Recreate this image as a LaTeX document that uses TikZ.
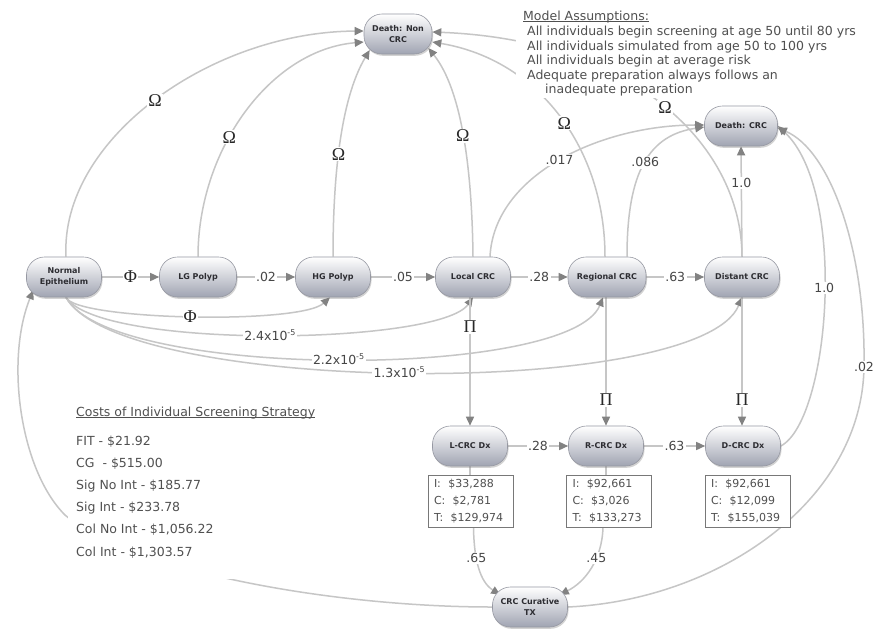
\documentclass[tikz,border=0pt]{standalone}
\usepackage{fontspec}
\setmainfont{DejaVu Sans}
\newfontfamily\grk{Liberation Serif}
\usetikzlibrary{arrows.meta,shadows,backgrounds}
\definecolor{linec}{RGB}{198,198,198}
\definecolor{arrowc}{RGB}{130,130,130}
\definecolor{nodebot}{RGB}{160,164,178}
\definecolor{nodeedge}{RGB}{150,152,162}
\definecolor{nodetext}{RGB}{45,45,50}
\definecolor{labelc}{RGB}{70,70,70}
\definecolor{greekc}{RGB}{40,40,40}
\definecolor{textc}{RGB}{80,80,80}
\definecolor{boxc}{RGB}{120,120,120}
\newcommand\myul[1]{\setbox0\hbox{#1}\rlap{\rule[-1.8pt]{\wd0}{0.6pt}}\box0}
\newcommand\expo[1]{\raisebox{5pt}{\fontsize{8}{8}\selectfont #1}}
\begin{document}
\begin{tikzpicture}[x=1pt,y=-1pt,
  box/.style={rectangle, rounded corners=18pt, minimum width=75pt, minimum height=40pt,
    inner sep=1pt, top color=white, bottom color=nodebot, draw=nodeedge, line width=0.6pt,
    text=nodetext, font=\bfseries\fontsize{8}{11}\selectfont, align=center,
    drop shadow={shadow xshift=1pt, shadow yshift=-1.8pt, opacity=0.35}},
  ibox/.style={rectangle, draw=boxc, line width=0.7pt, fill=white, minimum width=85pt,
    minimum height=52pt, text width=73pt, align=left, inner xsep=6pt, inner ysep=2pt,
    text=textc, font=\fontsize{11}{17}\selectfont},
  lbl/.style={fill=white, inner sep=1.5pt, text=labelc, font=\fontsize{12.5}{14}\selectfont},
  glbl/.style={fill=white, inner sep=1pt, text=greekc, font=\grk\fontsize{18}{20}\selectfont},
  txt/.style={anchor=base west, inner sep=0pt, text=textc, font=\fontsize{12.5}{15}\selectfont},
  edge/.style={draw=linec, line width=1.5pt},
  arr/.style={edge, -{Triangle[length=9pt,width=8pt,color=arrowc]}}
]
\useasboundingbox (0,0) rectangle (873,630);

% nodes
\node[box, minimum width=68pt] (dn) at (398,34) {Death: Non\\CRC};
\node[box, minimum width=73pt] (dc) at (741,126) {Death: CRC};
\node[box] (ne) at (64,277) {Normal\\Epithelium};
\node[box, minimum width=77pt] (lg) at (198,277) {LG Polyp};
\node[box] (hg) at (333,277) {HG Polyp};
\node[box] (lc) at (473,277) {Local CRC};
\node[box, minimum width=78pt] (rc) at (607,277) {Regional CRC};
\node[box] (dic) at (742,277) {Distant CRC};
\node[box] (ldx) at (470,446) {L-CRC Dx};
\node[box] (rdx) at (606,446) {R-CRC Dx};
\node[box] (ddx) at (743,446) {D-CRC Dx};
\node[box] (cur) at (530,607) {CRC Curative\\TX};

\node[ibox] (lbox) at (470.5,501) {I:\ \ \$33,288\\C:\ \ \$2,781\\T:\ \ \$129,974};
\node[ibox] (rbox) at (609,501) {I:\ \ \$92,661\\C:\ \ \$3,026\\T:\ \ \$133,273};
\node[ibox] (dbox) at (747.5,501) {I:\ \ \$92,661\\C:\ \ \$12,099\\T:\ \ \$155,039};

% texts
\node[txt] (a0) at (523,20) {\myul{Model Assumptions:}};
\node[txt] (a1) at (527,35) {All individuals begin screening at age 50 until 80 yrs};
\node[txt] (a2) at (527,50) {All individuals simulated from age 50 to 100 yrs};
\node[txt] (a3) at (527,64.5) {All individuals begin at average risk};
\node[txt] (a4) at (527,79) {Adequate preparation always follows an};
\node[txt] (a5) at (545,93.5) {inadequate preparation};

\node[txt] (c0) at (76,416) {\myul{Costs of Individual Screening Strategy}};
\node[txt] (c1) at (76,445) {FIT - \$21.92};
\node[txt] (c2) at (76,467) {CG\ \ - \$515.00};
\node[txt] (c3) at (76,489) {Sig No Int - \$185.77};
\node[txt] (c4) at (76,511.5) {Sig Int - \$233.78};
\node[txt] (c5) at (76,533.5) {Col No Int - \$1,056.22};
\node[txt] (c6) at (76,556) {Col Int - \$1,303.57};

\begin{pgfonlayer}{background}
\fill[white] (0,0) rectangle (873,630);
% to Death: Non CRC
\draw[arr] ([shift={(2,0)}]ne.north) .. controls (60,140) and (210,32) .. ([shift={(0,-3)}]dn.west)
  node[glbl, pos=0.5] (o1) {Ω};
\draw[arr] (lg.north) .. controls (198,150) and (270,50) .. ([shift={(0,8)}]dn.west)
  node[glbl, pos=0.4] (o2) {Ω};
\draw[arr] (hg.north) .. controls (333,180) and (340,100) .. ([shift={(6,16)}]dn.west)
  node[glbl, pos=0.45] (o3) {Ω};
\draw[arr] (lc.north) .. controls (472,170) and (462,90) .. ([shift={(-4,14)}]dn.east)
  node[glbl, pos=0.5] (o4) {Ω};
\draw[arr] ([shift={(-2,0)}]rc.north) .. controls (605,150) and (540,60) .. ([shift={(0,8)}]dn.east)
  node[glbl, pos=0.47] (o5) {Ω};
\draw[arr] (dic.north) .. controls (742,150) and (640,40) .. ([shift={(0,-2)}]dn.east)
  node[glbl, pos=0.5] (o6) {Ω};
% to Death: CRC
\draw[arr] ([shift={(17,0)}]lc.north) .. controls (494,175) and (600,125) .. ([shift={(0,-1)}]dc.west)
  node[lbl, pos=0.5] (p1) {.017};
\draw[arr] ([shift={(20,0)}]rc.north) .. controls (627,170) and (650,135) .. ([shift={(0,1)}]dc.west)
  node[lbl, pos=0.5] (p2) {.086};
\draw[arr] (dic.north) -- (dc.south) node[lbl, pos=0.67] (p3) {1.0};
\draw[arr] (ddx.east) .. controls (830,420) and (848,190) .. (dc.east)
  node[lbl, pos=0.53] (p4) {1.0};
\draw[arr] (cur.east) .. controls (720,600) and (862,500) .. (864,367) node[lbl] (p5) {.02}
  .. controls (866,250) and (830,150) .. ([shift={(0,2)}]dc.east);
% main chain
\draw[arr] (ne.east) -- (lg.west) node[glbl, pos=0.5] (f1) {Φ};
\draw[arr] (lg.east) -- (hg.west) node[lbl, pos=0.5] (r1) {.02};
\draw[arr] (hg.east) -- (lc.west) node[lbl, pos=0.5] (r2) {.05};
\draw[arr] (lc.east) -- (rc.west) node[lbl, pos=0.5] (r3) {.28};
\draw[arr] (rc.east) -- (dic.west) node[lbl, pos=0.5] (r4) {.63};
% from Normal Epithelium below
\draw[arr] ([shift={(2,0)}]ne.south) .. controls (75,320) and (300,325) .. ([shift={(-3,0)}]hg.south)
  node[glbl, pos=0.5] (f2) {Φ};
\draw[arr] ([shift={(2,0)}]ne.south) .. controls (100,350) and (440,345) .. (lc.south)
  node[lbl, pos=0.5] (e1) {2.4x10\expo{-5}};
\draw[arr] ([shift={(2,0)}]ne.south) .. controls (110,380) and (570,380) .. ([shift={(-4,0)}]rc.south)
  node[lbl, pos=0.5] (e2) {2.2x10\expo{-5}};
\draw[arr] ([shift={(2,0)}]ne.south) .. controls (120,395) and (700,400) .. (dic.south)
  node[lbl, pos=0.49] (e3) {1.3x10\expo{-5}};
% to diagnosis
\draw[arr] ([shift={(-3,0)}]lc.south) -- (ldx.north) node[glbl, pos=0.23] (q1) {Π};
\draw[arr] ([shift={(-1,0)}]rc.south) -- (rdx.north) node[glbl, pos=0.8] (q2) {Π};
\draw[arr] (dic.south) -- ([shift={(-1,0)}]ddx.north) node[glbl, pos=0.8] (q3) {Π};
\draw[arr] (ldx.east) -- (rdx.west) node[lbl, pos=0.5] (r5) {.28};
\draw[arr] (rdx.east) -- (ddx.west) node[lbl, pos=0.5] (r6) {.63};
\draw[edge] (ldx.south) -- (ldx.south |- lbox.north);
\draw[edge] (rdx.south) -- (rdx.south |- rbox.north);
% to curative
\draw[arr] ([shift={(3,0)}]lbox.south) .. controls (474,560) and (480,582) .. ([shift={(8,8)}]cur.north west)
  node[lbl, pos=0.35] (t1) {.65};
\draw[arr] ([shift={(-6,0)}]rbox.south) .. controls (602,560) and (585,582) .. ([shift={(-8,8)}]cur.north east)
  node[lbl, pos=0.35] (t2) {.45};
% back to normal epithelium
\draw[arr] (cur.west) .. controls (330,607) and (130,570) .. (65,515)
  .. controls (20,470) and (5,360) .. ([shift={(7,-7)}]ne.south west);
% masks behind text blocks
\fill[white] (516,4) rectangle (870,98);
\fill[white] (68,398) rectangle (335,579);
\end{pgfonlayer}
\end{tikzpicture}
\end{document}
